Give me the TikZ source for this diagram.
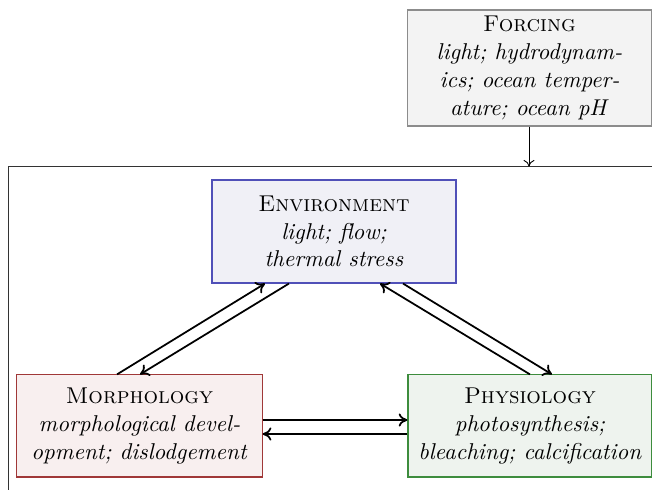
\documentclass[tikz,border=0pt]{standalone}
\usetikzlibrary{arrows.meta}
\definecolor{forcefill}{HTML}{F3F3F3}
\definecolor{forcedraw}{HTML}{8C8C8C}
\definecolor{envfill}{HTML}{F0F0F6}
\definecolor{envdraw}{HTML}{5050B8}
\definecolor{morfill}{HTML}{F8EFEF}
\definecolor{mordraw}{HTML}{A03838}
\definecolor{phyfill}{HTML}{EEF3EE}
\definecolor{phydraw}{HTML}{3D8C3D}
\tikzset{
  box/.style={draw, align=center, inner sep=0pt, line width=0.5pt, font=\fontsize{10.4pt}{12.6pt}\selectfont},
  flow/.style={-{To[length=4pt,width=6pt]}, line width=0.8pt},
  thinflow/.style={-{To[length=3pt,width=5pt]}, line width=0.4pt}
}
\begin{document}
\begin{tikzpicture}[x=0.4545pt,y=-0.4545pt]
\useasboundingbox (0,0) rectangle (652,490);
% frame
\draw[line width=0.4pt, draw=black!80] (8,490) -- (8,166.5) -- (652,166.5);
\coordinate (ftop) at (529,166.5);
% nodes
\node[box, fill=forcefill, draw=forcedraw, minimum width=111.1pt, minimum height=52.7pt] (forc) at (529.5,68)
  {\textsc{Forcing}\\ \textit{light; hydrodynam-}\\ \textit{ics; ocean temper-}\\ \textit{ature; ocean pH}};
\node[box, fill=envfill, draw=envdraw, minimum width=110.9pt, minimum height=46.8pt] (env) at (334,231.5)
  {\textsc{Environment}\\ \textit{light; flow;}\\ \textit{thermal stress}};
\node[box, fill=morfill, draw=mordraw, minimum width=111.4pt, minimum height=46.4pt] (mor) at (139.5,426)
  {\textsc{Morphology}\\ \textit{morphological devel-}\\ \textit{opment; dislodgement}};
\node[box, fill=phyfill, draw=phydraw, minimum width=110.9pt, minimum height=46.4pt] (phy) at (530,426)
  {\textsc{Physiology}\\ \textit{photosynthesis;}\\ \textit{bleaching; calcification}};
% connectors
\draw[thinflow] (forc.south -| ftop) -- (ftop);
\draw[flow] (mor.north -| 117,0) -- (env.south -| 265,0);
\draw[flow] (env.south -| 289,0) -- (mor.north -| 140,0);
\draw[flow] (phy.north -| 530,0) -- (env.south -| 380,0);
\draw[flow] (env.south -| 403,0) -- (phy.north -| 552,0);
\draw[flow] (mor.east |- 0,420) -- (phy.west |- 0,420);
\draw[flow] (phy.west |- 0,434) -- (mor.east |- 0,434);
\end{tikzpicture}
\end{document}
